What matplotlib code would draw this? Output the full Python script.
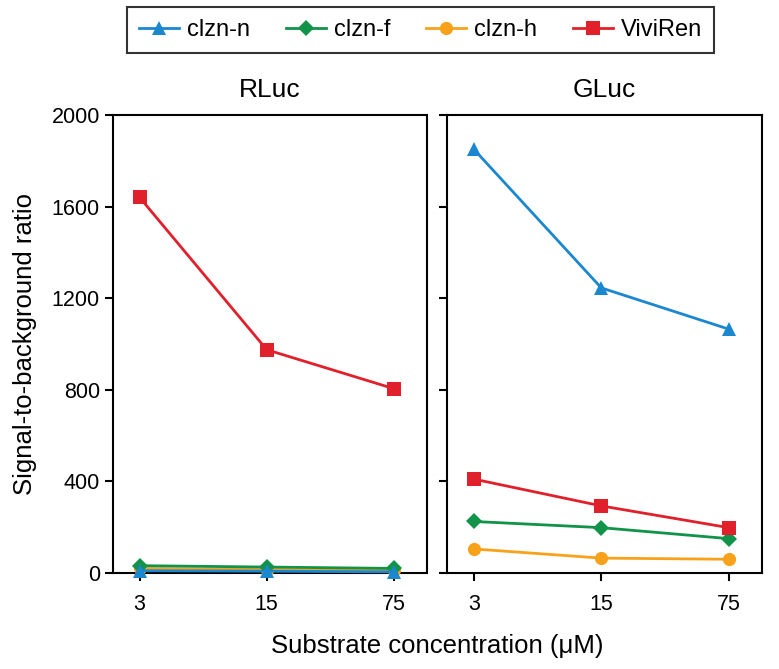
import matplotlib
matplotlib.use("Agg")
import matplotlib.pyplot as plt
from matplotlib.lines import Line2D

plt.rcParams['font.family'] = ['Liberation Sans', 'DejaVu Sans']

concentrations = ["3", "15", "75"]
series = ["clzn-n", "clzn-f", "clzn-h", "ViviRen"]
rluc = {
    "clzn-n": [10, 8, 5],
    "clzn-f": [32, 26, 20],
    "clzn-h": [20, 15, 12],
    "ViviRen": [1640, 975, 805],
}
gluc = {
    "clzn-n": [1850, 1245, 1065],
    "clzn-f": [225, 198, 150],
    "clzn-h": [105, 65, 60],
    "ViviRen": [410, 293, 198],
}
colors = {"clzn-n": "#1b87cf", "clzn-f": "#11934a", "clzn-h": "#f8a21c", "ViviRen": "#e0202b"}
markers = {"clzn-n": "^", "clzn-f": "D", "clzn-h": "o", "ViviRen": "s"}
msizes = {"clzn-n": 10.5, "clzn-f": 8, "clzn-h": 9.5, "ViviRen": 9.5}
yticks = [0, 400, 800, 1200, 1600, 2000]

fig = plt.figure(figsize=(7.79, 6.69), dpi=100)
ax1 = fig.add_axes([0.145, 0.1435, 0.403, 0.6846])
ax2 = fig.add_axes([0.574, 0.1435, 0.404, 0.6846])

x = list(range(len(concentrations)))
for ax, data, title in [(ax1, rluc, "RLuc"), (ax2, gluc, "GLuc")]:
    for s in ["clzn-h", "clzn-f", "ViviRen", "clzn-n"]:
        ax.plot(x, data[s], color=colors[s], marker=markers[s], markersize=msizes[s],
                markeredgewidth=0, linewidth=2, clip_on=False, zorder=3)
    ax.set_xlim(-0.21, 2.26)
    ax.set_ylim(0, 2000)
    ax.set_yticks(yticks)
    ax.set_xticks(x)
    ax.set_xticklabels(concentrations)
    ax.tick_params(axis='both', labelsize=15.5, length=6, width=1.5, direction='out')
    ax.tick_params(axis='x', pad=9)
    ax.set_title(title, fontsize=19, pad=13)
    for sp in ax.spines.values():
        sp.set_linewidth(1.5)

ax2.set_yticklabels([])
ax1.set_ylabel("Signal-to-background ratio", fontsize=18.5, labelpad=10)
fig.text(0.561, 0.035, "Substrate concentration (\u03bcM)", fontsize=18.5, ha='center', va='center')

handles = [Line2D([0], [0], color=colors[s], marker=markers[s], markersize=msizes[s],
                  markeredgewidth=0, linewidth=2)
           for s in series]
leg = fig.legend(handles, series, loc='center', bbox_to_anchor=(0.540, 0.955), ncol=4,
                 fontsize=17, frameon=True, fancybox=False, edgecolor='black',
                 handlelength=1.7, columnspacing=1.5, handletextpad=0.35, borderpad=0.5,
                 borderaxespad=0)
leg.get_frame().set_linewidth(1.5)

fig.savefig("out.png", dpi=100)
